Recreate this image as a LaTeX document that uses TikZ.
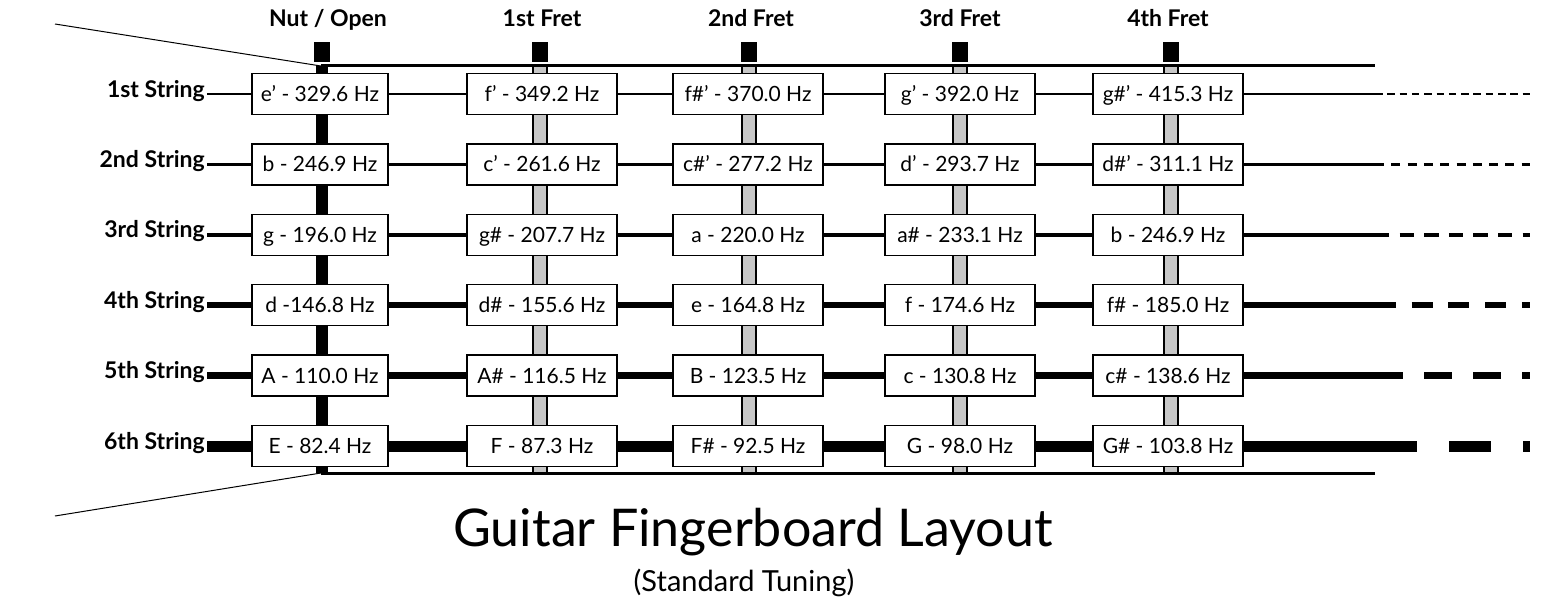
\documentclass[tikz,border=0pt]{standalone}
\usepackage{fontspec}
\setmainfont{Lato}
\begin{document}
\begin{tikzpicture}[x=1pt,y=-1pt]
\useasboundingbox (0,0) rectangle (1548,602);
\tikzset{
  note/.style={draw=black, line width=1.3pt, fill=white, minimum height=41pt,
    minimum width=150pt, inner sep=0pt, text height=15pt, text depth=0pt,
    font=\fontsize{21}{25}\selectfont},
  notezero/.style={note, minimum width=136pt},
  strlab/.style={anchor=base east, inner sep=0pt, font=\bfseries\fontsize{23}{27}\selectfont},
  fretlab/.style={anchor=base, inner sep=0pt, font=\bfseries\fontsize{23}{27}\selectfont},
  fretbar/.style={draw=black, line width=1.2pt, fill=black!22},
  fretcap/.style={fill=black},
  board/.style={line width=3pt},
  thinline/.style={line width=1pt},
  sone/.style={line width=1.5pt},
  stwo/.style={line width=3pt},
  sthree/.style={line width=4.5pt},
  sfour/.style={line width=6.5pt},
  sfive/.style={line width=7.5pt},
  ssix/.style={line width=11pt},
}
% neck outline
\coordinate (nutT) at (321,66);
\coordinate (nutB) at (321,473);
\coordinate (endT) at (1375,66);
\coordinate (endB) at (1375,473);
\coordinate (farT) at (55,24);
\coordinate (farB) at (55,516);
\draw[thinline] (farT) -- (nutT);
\draw[thinline] (farB) -- (nutB);
% frets
\foreach \fx in {540,749,960,1171}{
  \draw[fretbar] (\fx-7,66) rectangle (\fx+7,473);
  \fill[fretcap] (\fx-8,42) rectangle (\fx+8,62);
}
\fill (316,66) rectangle (328,473);
\fill[fretcap] (314,42) rectangle (330,62);
\draw[board] (nutT) -- (endT);
\draw[board] (nutB) -- (endB);
% fret labels
\node[fretlab] (hn) at (328,27) {Nut / Open};
\node[fretlab] (h1) at (542,27) {1st Fret};
\node[fretlab] (h2) at (751,27) {2nd Fret};
\node[fretlab] (h3) at (960,27) {3rd Fret};
\node[fretlab] (h4) at (1168,27) {4th Fret};
% string labels
\node[strlab] (l1) at (205,97) {1st String};
\node[strlab] (l2) at (205,167.4) {2nd String};
\node[strlab] (l3) at (205,237.8) {3rd String};
\node[strlab] (l4) at (205,308.2) {4th String};
\node[strlab] (l5) at (205,378.6) {5th String};
\node[strlab] (l6) at (205,449) {6th String};
% string start / end coordinates
\foreach \i/\y in {1/94,2/164.4,3/234.8,4/305.2,5/375.6,6/446}{
  \coordinate (a\i) at (207,\y);
  \coordinate (e\i) at (1375,\y);
  \coordinate (t\i) at (1530,\y);
}
% note boxes
\node[notezero] (n10) at (320,94) {e’ - 329.6 Hz};
\node[note] (n11) at (542,94) {f’ - 349.2 Hz};
\node[note] (n12) at (748,94) {f\#’ - 370.0 Hz};
\node[note] (n13) at (960,94) {g’ - 392.0 Hz};
\node[note] (n14) at (1168,94) {g\#’ - 415.3 Hz};
\node[notezero] (n20) at (320,164.4) {b - 246.9 Hz};
\node[note] (n21) at (542,164.4) {c’ - 261.6 Hz};
\node[note] (n22) at (748,164.4) {c\#’ - 277.2 Hz};
\node[note] (n23) at (960,164.4) {d’ - 293.7 Hz};
\node[note] (n24) at (1168,164.4) {d\#’ - 311.1 Hz};
\node[notezero] (n30) at (320,234.8) {g - 196.0 Hz};
\node[note] (n31) at (542,234.8) {g\# - 207.7 Hz};
\node[note] (n32) at (748,234.8) {a - 220.0 Hz};
\node[note] (n33) at (960,234.8) {a\# - 233.1 Hz};
\node[note] (n34) at (1168,234.8) {b - 246.9 Hz};
\node[notezero] (n40) at (320,305.2) {d -146.8 Hz};
\node[note] (n41) at (542,305.2) {d\# - 155.6 Hz};
\node[note] (n42) at (748,305.2) {e - 164.8 Hz};
\node[note] (n43) at (960,305.2) {f - 174.6 Hz};
\node[note] (n44) at (1168,305.2) {f\# - 185.0 Hz};
\node[notezero] (n50) at (320,375.6) {A - 110.0 Hz};
\node[note] (n51) at (542,375.6) {A\# - 116.5 Hz};
\node[note] (n52) at (748,375.6) {B - 123.5 Hz};
\node[note] (n53) at (960,375.6) {c - 130.8 Hz};
\node[note] (n54) at (1168,375.6) {c\# - 138.6 Hz};
\node[notezero] (n60) at (320,446) {E - 82.4 Hz};
\node[note] (n61) at (542,446) {F - 87.3 Hz};
\node[note] (n62) at (748,446) {F\# - 92.5 Hz};
\node[note] (n63) at (960,446) {G - 98.0 Hz};
\node[note] (n64) at (1168,446) {G\# - 103.8 Hz};
% strings
\foreach \i/\st/\on/\off in {1/sone/7.5/4.8,2/stwo/9/7.3,3/sthree/14.3/10.3,4/sfour/21/15.7,5/sfive/28/21,6/ssix/42/32}{
  \draw[\st] (a\i) -- (n\i0.west);
  \draw[\st] (n\i0.east) -- (n\i1.west);
  \draw[\st] (n\i1.east) -- (n\i2.west);
  \draw[\st] (n\i2.east) -- (n\i3.west);
  \draw[\st] (n\i3.east) -- (n\i4.west);
  \draw[\st] (n\i4.east) -- (e\i);
  \draw[\st, dash pattern=on \on pt off \off pt] (e\i) -- (t\i);
}
% title
\node[anchor=base, inner sep=0pt, font=\fontsize{52}{60}\selectfont] (title) at (753,546) {Guitar Fingerboard Layout};
\node[anchor=base, inner sep=0pt, font=\fontsize{29}{34}\selectfont] (sub) at (744,591) {(Standard Tuning)};
\end{tikzpicture}
\end{document}
